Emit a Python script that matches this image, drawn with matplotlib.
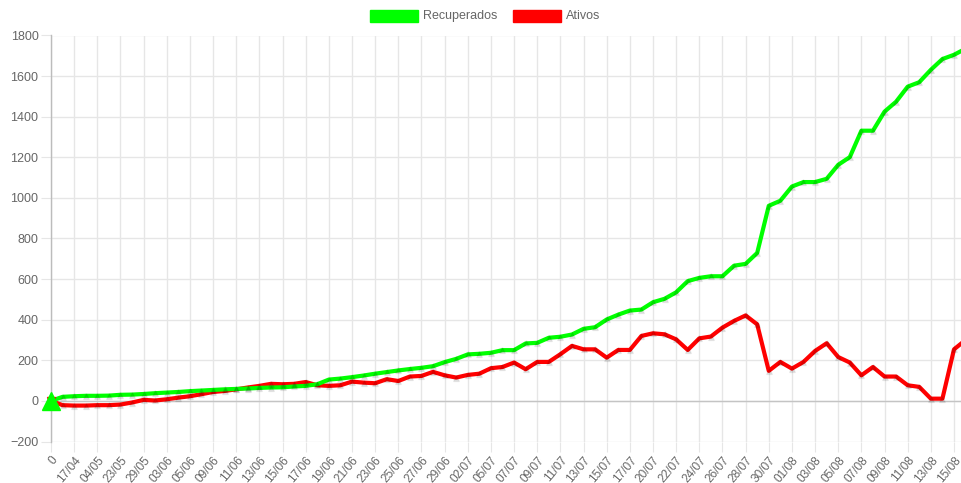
import matplotlib
matplotlib.use("Agg")
import matplotlib.pyplot as plt
from matplotlib.patches import Rectangle

plt.rcParams['font.family'] = ['Liberation Sans', 'DejaVu Sans']

tick_labels = ['0', '17/04', '04/05', '23/05', '29/05', '03/06', '05/06', '09/06', '11/06', '13/06',
               '15/06', '17/06', '19/06', '21/06', '23/06', '25/06', '27/06', '29/06', '02/07', '05/07',
               '07/07', '09/07', '11/07', '13/07', '15/07', '17/07', '20/07', '22/07', '24/07', '26/07',
               '28/07', '30/07', '01/08', '03/08', '05/08', '07/08', '09/08', '11/08', '13/08', '15/08']

recuperados = [0, 20, 23, 25, 25, 26, 30, 31, 34, 38,
               41, 44, 48, 51, 54, 57, 59, 61, 64, 66,
               67, 71, 74, 82, 105, 110, 117, 125, 134, 142,
               150, 157, 163, 171, 191, 207, 229, 232, 237, 250,
               250, 283, 286, 311, 316, 327, 355, 363, 401, 425,
               445, 450, 486, 503, 535, 590, 606, 614, 614, 666,
               675, 729, 961, 986, 1056, 1078, 1078, 1094, 1163, 1201,
               1331, 1331, 1425, 1474, 1548, 1570, 1631, 1684, 1705, 1735]

ativos = [0, -21, -23, -23, -21, -21, -18, -8, 5, 2,
          8, 16, 23, 33, 44, 49, 57, 66, 74, 84,
          82, 84, 93, 77, 74, 77, 95, 90, 87, 107,
          98, 120, 123, 143, 126, 115, 128, 134, 161, 167,
          189, 156, 192, 192, 230, 271, 254, 254, 213, 251,
          251, 320, 333, 328, 303, 251, 308, 317, 361, 394,
          421, 377, 148, 192, 159, 192, 246, 284, 216, 189,
          126, 167, 120, 120, 77, 69, 11, 11, 254, 300]

GREEN = '#00ff00'
RED = '#ff0000'
TXT = '#666666'

W, H = 961, 483
fig = plt.figure(figsize=(W / 100, H / 100), dpi=100)
left_px, right_px, top_px, bot_px = 51, 961, 35.5, 441.5
ax = fig.add_axes([left_px / W, 1 - bot_px / H, (right_px - left_px) / W, (bot_px - top_px) / H])

x = list(range(len(recuperados)))
spacing = (954 - 51) / 78.0
ax.set_xlim(0, (right_px - left_px) / spacing)
ax.set_ylim(-200, 1800)

ax.plot(x, recuperados, color=GREEN, lw=3.0, solid_joinstyle='round', zorder=4)
ax.plot(x, ativos, color=RED, lw=3.0, solid_joinstyle='round', zorder=3)
ax.plot(x, recuperados, ls='none', marker='^', ms=5, mfc=(0, 0, 0, 0.12), mec=(0, 0, 0, 0.05), zorder=5)
ax.plot(x, ativos, ls='none', marker='^', ms=5, mfc=(0, 0, 0, 0.12), mec=(0, 0, 0, 0.05), zorder=5)
ax.plot([x[0]], [ativos[0]], ls='none', marker='v', ms=6, color=RED, zorder=6, clip_on=False)
ax.plot([x[0]], [recuperados[0]], ls='none', marker='^', ms=13, color=GREEN, zorder=7, clip_on=False)

ax.set_yticks(range(-200, 1801, 200))
ax.set_xticks(range(0, len(tick_labels) * 2, 2))
ax.set_xticklabels(tick_labels, rotation=50, ha='right', rotation_mode='anchor', fontsize=8.6)

ax.grid(True, color='#e6e6e6', lw=1, zorder=0)
ax.axhline(0, color='#c4c4c4', lw=1, zorder=1)
for s in ['top', 'right', 'bottom']:
    ax.spines[s].set_visible(False)
ax.spines['left'].set_color('#bcbcbc')
ax.spines['left'].set_linewidth(1)
ax.tick_params(axis='both', length=7, color='#e6e6e6', labelcolor=TXT)
ax.tick_params(axis='y', pad=2, labelsize=9)
ax.tick_params(axis='x', pad=2)
ax.set_axisbelow(True)

# legend
def box(x0, color, label):
    fig.add_artist(Rectangle((x0 / W, 1 - 22 / H), 48 / W, 12 / H, transform=fig.transFigure,
                             facecolor=color, edgecolor=color, lw=1))
    fig.text((x0 + 53) / W, 1 - 16 / H, label, color=TXT, fontsize=9, va='center', ha='left')

box(370, GREEN, 'Recuperados')
box(513, RED, 'Ativos')

fig.savefig('out.png', dpi=100)
